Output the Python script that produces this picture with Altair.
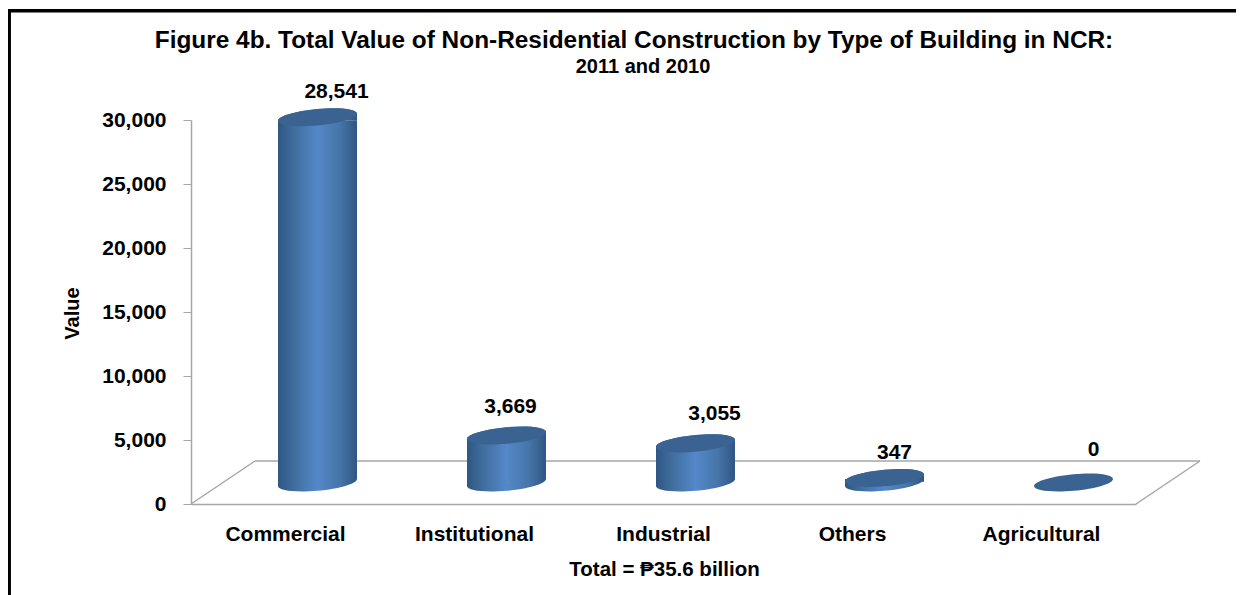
import altair as alt
import pandas as pd

categories = ["Commercial", "Institutional", "Industrial", "Others", "Agricultural"]
values = [28541, 3669, 3055, 347, 0]
y_ticks = [0, 5000, 10000, 15000, 20000, 25000, 30000]
title_lines = ["Figure 4b. Total Value of Non-Residential Construction by Type of Building in NCR:",
               "2011 and 2010"]
x_title = "Total = \u20b135.6 billion"
y_title = "Value"

# layout (pixels relative to the plot area)
W, H = 945, 384
DX, DY = 64, 43            # depth of the 3-D floor
CX, CY = 32, -21.5         # cylinder offset on the floor
R = 39.5                   # cylinder radius
label_nudges = [(19, -25), (4, -29), (19, -29), (10, -25), (20, -33)]
FONT = "Liberation Sans"
GREY = "#A6A6A6"

t, e, k = 0.09, 0.21, 0.5523
ellipse = (f"M-1,{t}C-1,{t-k*e} {-k},{-e+t*k} 0,{-e}C{k},{-e-t*k} 1,{-k*e-t} 1,{-t}"
           f"C1,{k*e-t} {k},{e-t*k} 0,{e}C{-k},{e+t*k} -1,{k*e+t} -1,{t}Z")
top_cap = ellipse + f"M-1,{t}L1,{-t}L1,{t}Z"
base_cap = ellipse + f"M-1,{-t}L1,{-t}L-1,{t}Z"
SIZE = (2 * R) ** 2
TILT = t * R

body_fill = alt.LinearGradient(
    gradient="linear", x1=0, x2=1, y1=0, y2=0,
    stops=[alt.GradientStop(offset=0, color="#2F5684"),
           alt.GradientStop(offset=0.22, color="#41709F"),
           alt.GradientStop(offset=0.5, color="#5488C9"),
           alt.GradientStop(offset=0.78, color="#4675A8"),
           alt.GradientStop(offset=1, color="#2F5684")])

df = pd.DataFrame({"category": categories, "value": values, "zero": [0] * len(values)})
one = pd.DataFrame({"a": [1]})

y_axis = alt.Axis(title=y_title, values=y_ticks, format=",.0f", grid=False, labelFont=FONT,
                  labelFontWeight="bold", labelFontSize=21, labelColor="black",
                  labelPadding=17, tickSize=8, tickColor=GREY, domainColor=GREY,
                  domainWidth=1.5, titleFont=FONT, titleFontWeight="bold",
                  titleFontSize=20, titleColor="black", titleX=-109, titleY=193)
y_scale = alt.Scale(domain=[0, 30000], nice=False)

x = alt.X("category:N", sort=categories, scale=alt.Scale(paddingInner=0, paddingOuter=0),
          axis=alt.Axis(title=x_title, labelAngle=0, labelFont=FONT, labelFontWeight="bold",
                        labelFontSize=21, labelColor="black", labelPadding=19, ticks=False,
                        domainColor=GREY, domainWidth=1.5, titleFont=FONT, titleFontWeight="bold",
                        titleFontSize=20.5, titleColor="black", titleY=55, titleX=473))
y = alt.Y("value:Q", scale=y_scale, axis=y_axis)
y0 = alt.Y("zero:Q", scale=y_scale, axis=y_axis)


def rule(x1, x2, y1, y2, color=GREY, width=1.5):
    return alt.Chart(one).mark_rule(color=color, strokeWidth=width).encode(
        x=alt.value(x1), x2=alt.value(x2), y=alt.value(y1), y2=alt.value(y2))


floor = [rule(0, DX, H, H - DY), rule(DX, W + DX, H - DY, H - DY), rule(W, W + DX, H, H - DY)]
border = [rule(-181.8, -181.8, -110.5, 480, "black", 3.5),
          rule(-183, 1045, -109.2, -109.2, "black", 3.5)]

base = alt.Chart(df)
positive = base.transform_filter("datum.value > 0")

bodies = positive.mark_bar(size=2 * R, fill=body_fill, xOffset=CX,
                           yOffset=CY + TILT, y2Offset=CY - TILT).encode(
    x=x, y=y, y2=alt.Y2("zero:Q"))
base_caps = positive.mark_point(shape=base_cap, size=SIZE, filled=True, fill=body_fill, opacity=1,
                                strokeWidth=0, xOffset=CX, yOffset=CY).encode(x=x, y=y0)
top_caps = positive.mark_point(shape=top_cap, size=SIZE, filled=True, fill=body_fill, opacity=1,
                               strokeWidth=0, xOffset=CX, yOffset=CY).encode(x=x, y=y)
tops = base.mark_point(shape=ellipse, size=SIZE, filled=True, fill="#3B6391", opacity=1,
                       strokeWidth=0, xOffset=CX, yOffset=CY).encode(x=x, y=y)

value_labels = []
for cat, (dx, dy) in zip(categories, label_nudges):
    value_labels.append(
        base.transform_filter(alt.datum.category == cat).mark_text(
            font=FONT, fontWeight="bold", fontSize=21, color="black",
            xOffset=CX, yOffset=CY, dx=dx, dy=dy).encode(
            x=x, y=y, text=alt.Text("value:Q", format=",")))

titles = [
    alt.Chart(one).mark_text(font=FONT, fontWeight="bold", fontSize=24.4, color="black").encode(
        x=alt.value(443), y=alt.value(-79), text=alt.value(title_lines[0])),
    alt.Chart(one).mark_text(font=FONT, fontWeight="bold", fontSize=20, color="black").encode(
        x=alt.value(452), y=alt.value(-53), text=alt.value(title_lines[1])),
]

chart = alt.layer(*floor, bodies, base_caps, top_caps, tops, *value_labels, *titles, *border).properties(
    width=W, height=H, autosize=alt.AutoSizeParams(type="none"),
    padding={"left": 183, "top": 112, "right": 100, "bottom": 91},
).configure_view(stroke=None)

chart.save("out.html", embed_options={"renderer": "svg", "actions": False})
